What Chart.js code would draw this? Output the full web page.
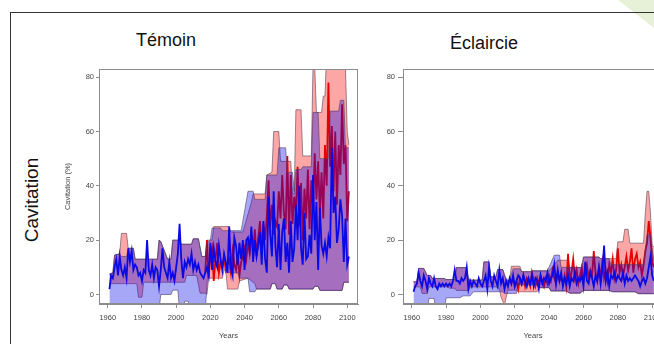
<!DOCTYPE html>
<html><head><meta charset="utf-8">
<script src="https://cdn.jsdelivr.net/npm/chart.js@4.4.1/dist/chart.umd.min.js"></script>
<style>
html,body{margin:0;padding:0;width:654px;height:344px;overflow:hidden;background:#fff}
body{position:relative}
.deco{position:absolute;left:618px;top:0;width:36px;height:28px;background:#e6f1d8;clip-path:polygon(0 0,100% 0,100% 100%)}
.frame{position:absolute;left:10px;top:12px;width:700px;height:400px;border-left:1.5px solid #333;border-top:1.5px solid #333}
.t{position:absolute;font-family:"Liberation Sans",Arial,sans-serif;color:#111;white-space:nowrap;line-height:1}
canvas{position:absolute}
</style></head>
<body>
<div class="deco"></div>
<div class="frame"></div>
<div class="t" style="left:136px;top:31px;font-size:18px">Témoin</div>
<div class="t" style="left:450px;top:34px;font-size:18px">Éclaircie</div>
<div class="t" style="left:31px;top:200px;font-size:19px;transform:translate(-50%,-50%) rotate(-90deg)">Cavitation</div>
<canvas id="c1" width="330" height="284" style="left:40px;top:60px"></canvas>
<canvas id="c2" width="325" height="284" style="left:350px;top:60px"></canvas>
<script>
// ---- data ----
const firstYear = 1961;      // first year of the yearly lines
const redStartYear = 2017;   // scenario lines start here
const xTicks = [1960, 1980, 2000, 2020, 2040, 2060, 2080, 2100];
const yTicks = [0, 20, 40, 60, 80];

// Témoin (left)
const L_blue = [
 2,7,6,10,13,7,14,9,7,10,
 6,17,12,16,9,11,10,7,8,5,
 9,8,20,9,7,11,6,10,9,3,
 9,17,10,8,6,12,6,8,5,10,
 15,26,13,6,12,10,13,11,15,9,
 12,9,11,8,7,6,8,10,7,19,
 9,17,12,10,18,13,9,15,12,8,
 25,10,7,21,18,11,19,13,20,9,
 20,21,17,25,12,20,14,18,23,11,
 27,13,8,36,22,14,38,18,10,26,
 9,23,28,12,19,8,27,12,17,33,
 20,40,17,11,30,13,14,22,15,44,
 20,34,9,32,18,15,19,14,21,17,
 54,30,36,19,24,35,29,12,28,11,
 14];
const L_red = [
 8,20,6,14,
 17,5,13,19,8,12,10,14,9,11,
 13,8,16,11,9,15,7,12,14,17,
 13,19,15,22,17,24,14,21,27,16,
 26,20,29,42,25,33,22,27,25,38,
 28,44,30,24,51,22,44,26,36,30,
 47,25,41,20,39,28,46,24,42,31,
 52,35,49,30,45,28,55,40,78,47,
 62,38,60,33,55,44,70,48,55,27,
 38];
const L_bluHi = [[1961,7.5],[1963,8],[1964,14.5],[1967,15],[1968,14],[1971,14],[1972,17],[1975,17],[1976,13],[1989,13],[1990,20],[1991,19.5],[1995,13],[1997,13],[1998,20],[2002,20],[2003,18.5],[2009,18.5],[2010,20.5],[2013,20.5],[2015,14],[2017,14],[2018,19],[2020,20],[2021,24.5],[2026,24.5],[2027,23.5],[2038,23.5],[2042,38],[2045,38],[2046,35],[2052,35],[2053,44],[2059,44],[2060,54],[2064,54],[2065,45],[2068,45],[2069,38],[2070,46],[2073,46],[2074,47],[2079,47],[2080,67],[2083,67],[2084,50],[2089,50],[2090,67.5],[2095,67.5],[2096,71.5],[2098,71.5],[2099,54],[2101,54]];
const L_bluLo = [[1961,-6],[1990,-6],[1991,0],[1997,0],[1998,1.6],[2001,1.6],[2002,-6],[2004,-6],[2005,-2.5],[2007,-2.5],[2008,-6],[2017,-6],[2019,12],[2029,12],[2030,8],[2036,8],[2037,6],[2042,6],[2043,1],[2046,1],[2047,2],[2055,2],[2056,4],[2058,4],[2059,2],[2062,2],[2063,3.5],[2065,3.5],[2066,2],[2080,2],[2081,3],[2083,3],[2084,1.5],[2097,1.5],[2098,4.5],[2101,4.5]];
const L_redHi = [[1961,7.5],[1963,8],[1964,14.5],[1967,15],[1968,22.5],[1971,22.5],[1972,17],[1975,17],[1976,13],[1989,13],[1990,20],[1991,19.5],[1995,13],[1997,13],[1998,20],[2002,20],[2003,18.5],[2009,18.5],[2010,20.5],[2013,20.5],[2015,14],[2017,14],[2018,20],[2021,20],[2022,25],[2031,25],[2032,23],[2039,23],[2044,34],[2045,37],[2052,37],[2053,44],[2056,45],[2057,60],[2060,60],[2061,49],[2067,49],[2068,37],[2069,37],[2070,68],[2073,68],[2074,51],[2079,51],[2080,84],[2081,84],[2082,67],[2085,67],[2086,73],[2087,73],[2088,90],[2098,90],[2099,83],[2100,60],[2101,55]];
const L_redLo = [[1961,4],[1977,4],[1978,-1],[1980,-1],[1981,4.5],[2005,4.5],[2006,7],[2012,7],[2014,0.5],[2017,0.5],[2018,0],[2019,6],[2027,6],[2028,9],[2029,9],[2030,2],[2036,2],[2037,5],[2042,6],[2046,4],[2047,2],[2055,2],[2056,4],[2058,4],[2059,2],[2062,2],[2063,3.5],[2065,3.5],[2066,2],[2080,2],[2081,3],[2083,3],[2084,1.5],[2097,1.5],[2098,4.5],[2101,4.5]];

// Éclaircie (right)
const R_blue = [
 1,3,4,8,5,3,7,5,2,6,
 4,3,6,3,2,4,3,4,3,4,
 3,4,3,5,9,5,5,4,6,5,
 6,10,2,5,3,5,4,3,6,4,
 3,5,7,2,10,5,3,7,5,3,
 9,4,6,2,5,3,6,4,7,3,
 5,7,6,4,7,5,3,6,4,7,
 3,6,5,2,7,4,6,5,8,4,
 6,7,11,4,9,5,8,3,6,4,
 7,3,6,5,8,4,6,5,7,3,
 12,5,4,8,6,3,7,5,10,4,
 9,18,5,8,3,7,6,8,5,7,
 6,5,8,4,7,5,6,5,6,7,
 6,5,3,5,6,4,6,10,14,7,
 5];
const R_red = [
 6,4,6,3,
 5,2,6,4,7,3,6,5,3,8,
 5,3,6,4,7,5,3,6,4,7,
 5,9,6,4,8,5,6,4,7,3,
 15,5,8,13,6,9,4,7,10,5,
 8,11,6,9,7,16,8,5,10,7,
 12,6,9,5,11,8,13,6,9,17,
 8,11,7,10,14,9,12,17,8,13,
 15,10,12,7,11,16,19,27,21,12,
 10];
const R_bluHi = [[1961,4.7],[1963,4.7],[1964,9.6],[1967,9.6],[1969,7],[1971,7],[1972,5.9],[1979,5.9],[1980,5.5],[1985,5.5],[1986,9.9],[1992,9.9],[1993,5.3],[2001,5.3],[2002,12],[2005,12],[2006,6.5],[2009,6.5],[2010,9.2],[2013,9.2],[2015,5.3],[2017,5.3],[2019,9.5],[2023,9.5],[2024,8.4],[2029,8.4],[2030,8.7],[2039,8.7],[2043,14.5],[2046,14.5],[2047,10],[2059,10],[2060,13.8],[2069,13.8],[2070,13.2],[2075,13.2],[2076,11],[2095,11],[2097,22],[2099,22],[2101,12]];
const R_bluLo = [[1961,-6],[1969,-6],[1970,-1.5],[1973,-1.5],[1974,-6],[1979,-6],[1980,-1.2],[1988,-1.2],[1990,-0.5],[1994,-0.5],[1996,1],[2013,1],[2014,0.4],[2021,0.4],[2022,3.5],[2033,3.5],[2034,2.5],[2040,2.5],[2041,1.3],[2050,1.3],[2052,0.5],[2058,0.5],[2060,1.5],[2075,1.5],[2077,1],[2090,1],[2092,0.3],[2101,0.3]];
const R_redHi = [[1961,4.7],[1963,4.7],[1964,9.6],[1967,9.6],[1969,7],[1971,7],[1972,5.9],[1979,5.9],[1980,5.5],[1985,5.5],[1986,9.9],[1992,9.9],[1993,5.3],[2001,5.3],[2002,12],[2005,12],[2006,6.5],[2009,6.5],[2010,9.2],[2013,9.2],[2015,5.3],[2017,5.3],[2018,10.4],[2023,10.4],[2024,8.4],[2029,8.4],[2030,8.7],[2040,8.7],[2043,11],[2045,12.6],[2051,12.6],[2052,9.9],[2059,9.9],[2060,13.8],[2069,13.8],[2070,13.2],[2079,13.2],[2080,19.4],[2083,19.4],[2084,24],[2086,24],[2087,18.9],[2095,18.9],[2096,30],[2097,38],[2098,38],[2099,30],[2100,18],[2101,17.6]];
const R_redLo = [[1961,2.8],[1965,2.8],[1966,0.4],[1969,0.4],[1970,2.8],[1981,2.8],[1982,2.3],[1985,2.3],[1986,1.5],[1993,1.5],[1994,2.8],[2009,2.8],[2011,2.3],[2012,-1],[2014,-4],[2015,-1],[2016,1.6],[2021,1.6],[2022,1],[2033,1],[2034,2.5],[2040,2.5],[2041,1.3],[2050,1.3],[2052,0.5],[2058,0.5],[2060,1.5],[2075,1.5],[2077,1],[2090,1],[2092,0.3],[2101,0.3]];

// ---- drawing ----
const FONT = '"Liberation Sans", Arial, sans-serif';
const seq = (vals, start) => vals.map((v, i) => ({x: start + i, y: v}));
const pairs = a => a.map(p => ({x: p[0], y: p[1]}));
const EDGE = 'rgba(85,60,85,0.65)';

const boxPlugin = {
  id: 'box',
  afterDraw(c) {
    const a = c.chartArea, g = c.ctx;
    g.save(); g.strokeStyle = '#8c8c8c'; g.lineWidth = 1;
    g.strokeRect(a.left + 0.5, a.top + 0.5, a.right - a.left - 1, a.bottom - a.top - 1);
    g.restore();
  }
};

function makeChart(id, p) {
  const datasets = [
    {data: seq(p.blue, firstYear), borderColor: '#0a0ae6', borderWidth: 1.8, fill: false},
    {data: pairs(p.bluHi), borderColor: EDGE, borderWidth: 0.9, fill: '+1', backgroundColor: 'rgba(10,10,235,0.36)'},
    {data: pairs(p.bluLo), borderColor: EDGE, borderWidth: 0.9, fill: false},
    {data: seq(p.red, redStartYear), borderColor: '#e60000', borderWidth: 1.8, fill: false},
    {data: pairs(p.redHi), borderColor: EDGE, borderWidth: 0.9, fill: '+1', backgroundColor: 'rgba(250,20,20,0.38)'},
    {data: pairs(p.redLo), borderColor: EDGE, borderWidth: 0.9, fill: false}
  ];
  return new Chart(document.getElementById(id), {
    type: 'line',
    data: {datasets},
    plugins: [boxPlugin],
    options: {
      responsive: false, animation: false, devicePixelRatio: 1,
      layout: {padding: {left: 0, top: 9, right: 12, bottom: 0}},
      elements: {point: {radius: 0}, line: {tension: 0}},
      plugins: {legend: {display: false}, tooltip: {enabled: false}},
      scales: {
        x: {
          type: 'linear', min: 1954.9, max: 2106.3,
          afterBuildTicks: s => { s.ticks = xTicks.map(v => ({value: v})); },
          afterFit: s => { s.height = 40; },
          grid: {display: true, drawOnChartArea: false, drawTicks: true, tickLength: 4, color: '#8c8c8c'},
          border: {display: true, color: '#8c8c8c'},
          ticks: {padding: 5, autoSkip: false, maxRotation: 0, color: '#444', font: {size: 7.5, family: FONT}, callback: v => String(v)},
          title: {display: true, text: 'Years', color: '#444', font: {size: 7.5, family: FONT}, padding: {top: 0, bottom: 4}}
        },
        y: {
          min: -3.5, max: 83,
          afterBuildTicks: s => { s.ticks = yTicks.map(v => ({value: v})); },
          afterFit: s => { s.width = p.yWidth; },
          grid: {display: true, drawOnChartArea: false, drawTicks: true, tickLength: p.tickLen, color: '#8c8c8c'},
          border: {display: true, color: '#8c8c8c'},
          ticks: {padding: p.tickPad, color: '#444', font: {size: 7.5, family: FONT}, callback: v => String(v)},
          title: {display: p.yTitle, text: 'Cavitation (%)', color: '#444', font: {size: 7.5, family: FONT}, padding: {top: 23.5, bottom: 0}}
        }
      }
    }
  });
}

makeChart('c1', {blue: L_blue, red: L_red, bluHi: L_bluHi, bluLo: L_bluLo, redHi: L_redHi, redLo: L_redLo, yWidth: 59, tickLen: 3, tickPad: 2, yTitle: true});
makeChart('c2', {blue: R_blue, red: R_red, bluHi: R_bluHi, bluLo: R_bluLo, redHi: R_redHi, redLo: R_redLo, yWidth: 53, tickLen: 5, tickPad: 3, yTitle: false});
</script>
</body></html>
